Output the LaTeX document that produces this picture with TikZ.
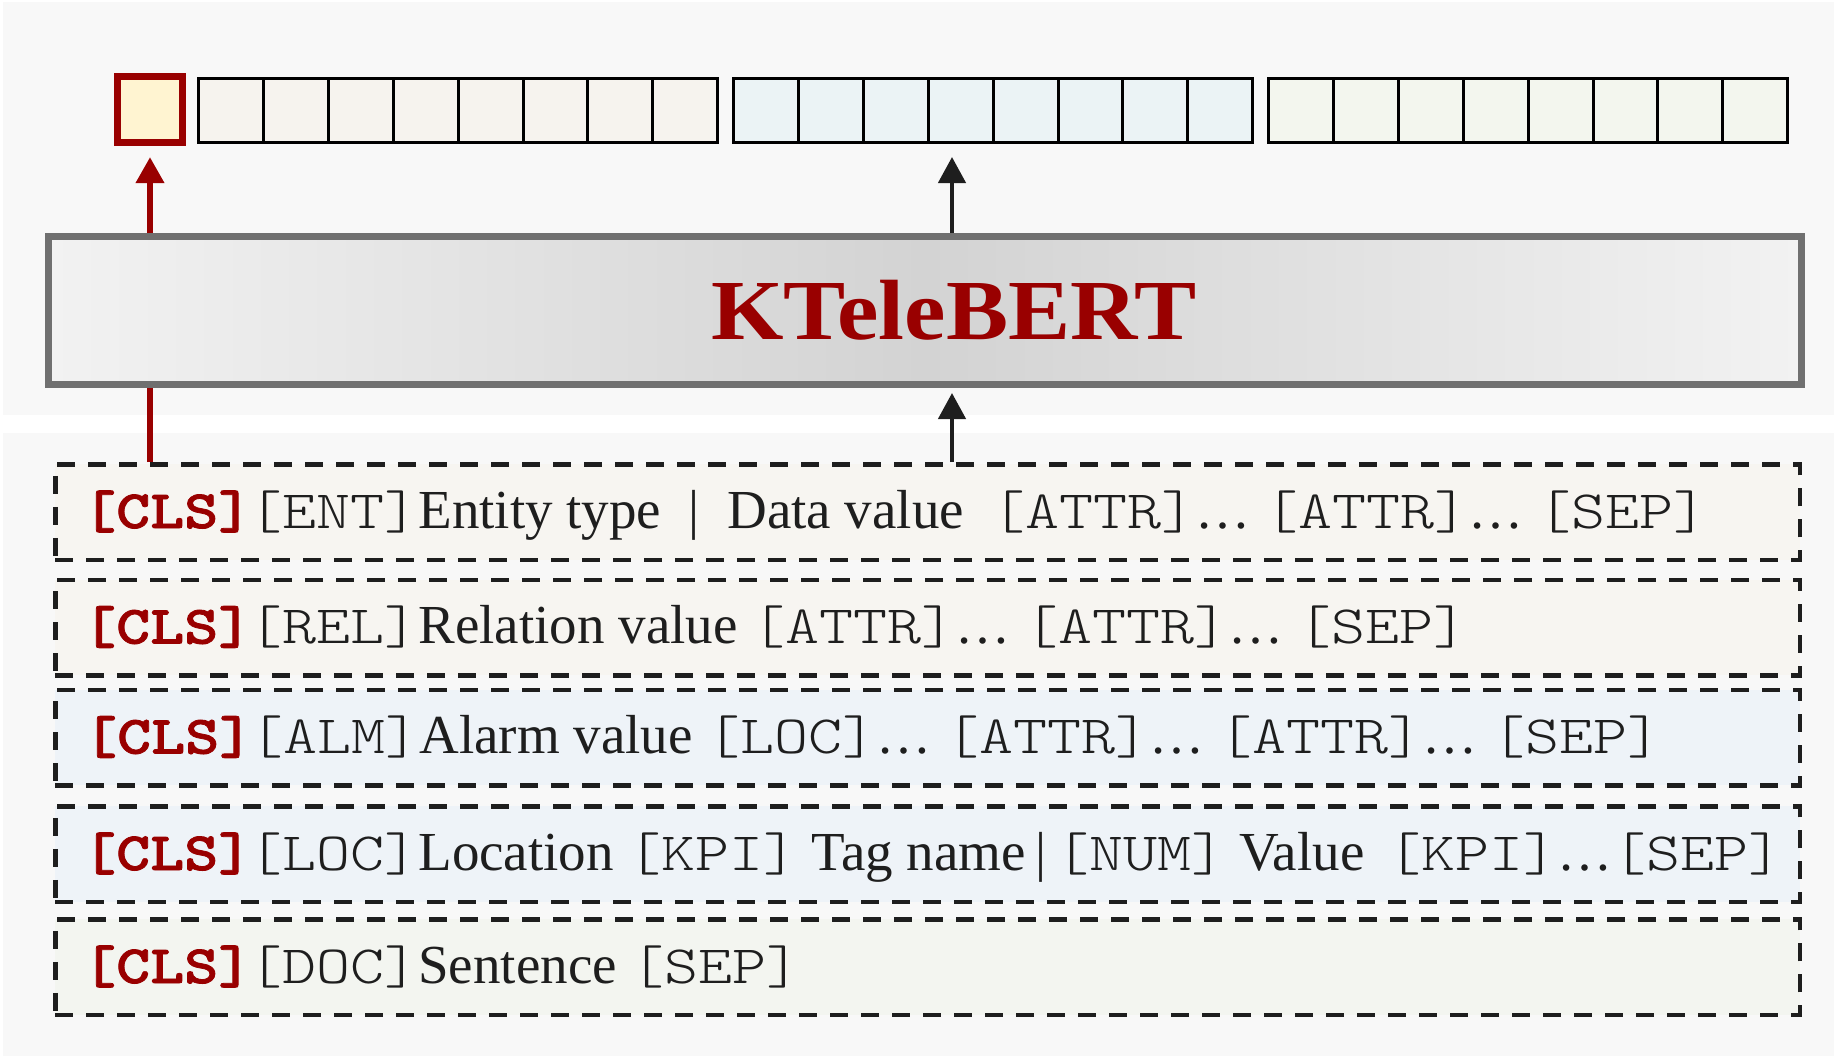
\documentclass[tikz,border=0pt]{standalone}
\usepackage{fontspec}
\setmainfont{Liberation Serif}
\newfontfamily\tokfont{lmmonolt10-regular.otf}[FakeStretch=1.2]
\newfontfamily\clsfont{lmmonolt10-bold.otf}[FakeStretch=1.2, FakeBold=1.5]
\newfontfamily\titlefont{Liberation Serif}[FakeStretch=1.09]
\usetikzlibrary{positioning,arrows.meta}

\definecolor{panelgray}{HTML}{F8F8F8}
\definecolor{ktred}{HTML}{990000}
\definecolor{clsfill}{HTML}{FFF4D1}
\definecolor{entfill}{HTML}{F6F3EE}
\definecolor{almfill}{HTML}{EBF3F5}
\definecolor{docfill}{HTML}{F3F6EE}
\definecolor{rowwarm}{HTML}{F7F5F1}
\definecolor{rowblue}{HTML}{EEF3F8}
\definecolor{rowgreen}{HTML}{F3F5F0}
\definecolor{bertedge}{HTML}{F2F2F2}
\definecolor{bertmid}{HTML}{D3D3D3}
\definecolor{bertline}{HTML}{707070}
\definecolor{inkblack}{HTML}{1E1E1E}

\newcommand{\clstok}{\textcolor{ktred}{\fontsize{54}{60}\clsfont [CLS]}\kern-4pt}
\newcommand{\tok}[1]{{\fontsize{54}{60}\tokfont [#1]}}

\tikzset{
    cell/.style={draw=black, line width=3pt, inner sep=0pt,
        minimum width=64.9pt, minimum height=64pt},
    clscell/.style={draw=ktred, line width=7pt, fill=clsfill, inner sep=0pt,
        minimum width=65pt, minimum height=66pt},
    bertbox/.style={draw=bertline, line width=7pt, inner sep=0pt,
        left color=bertedge, right color=bertedge, middle color=bertmid,
        minimum width=1753pt, minimum height=148pt},
    seqrow/.style={draw=inkblack, line width=4.5pt, dash pattern=on 18pt off 13pt,
        inner sep=0pt, minimum width=1744.5pt, minimum height=95.5pt},
    rowtext/.style={anchor=base west, inner sep=0pt, text=inkblack,
        font=\fontsize{55}{60}\selectfont},
    redup/.style={draw=ktred, line width=6.5pt, -{Triangle[length=26pt,width=27pt]}},
    redline/.style={draw=ktred, line width=6.5pt},
    blackup/.style={draw=inkblack, line width=4.5pt, -{Triangle[length=26pt,width=27pt]}}
}

\begin{document}
\begin{tikzpicture}[x=1pt, y=-1pt]
    \useasboundingbox (0,0) rectangle (1837,1058);

    % Background panels
    \fill[panelgray] (3,2) rectangle (1834,415);
    \fill[panelgray] (3,433) rectangle (1834,1056);

    % Output vectors
    \node[clscell] (cls) at (150,109.5) {};
    \foreach \g/\gx/\gfill in {1/198.5/entfill, 2/733.5/almfill, 3/1268.5/docfill} {
        \foreach \i in {1,...,8} {
            \node[cell, fill=\gfill] (c\g-\i) at ({\gx+(\i-0.5)*64.9}, 110.5) {};
        }
    }

    % Encoder
    \node[bertbox] (bert) at (925,310.5) {};
    \node[font=\fontsize{85.5}{90}\titlefont\bfseries, text=ktred, inner sep=0pt]
        (bertname) at (954,310.5) {KTeleBERT};

    % Input sequences
    \node[seqrow, fill=rowwarm] (r1) at (927.5,512) {};
    \node[seqrow, fill=rowwarm] (r2) at (927.5,627.5) {};
    \node[seqrow, fill=rowblue] (r3) at (927.5,737.5) {};
    \node[seqrow, fill=rowblue] (r4) at (927.5,854) {};
    \node[seqrow, fill=rowgreen] (r5) at (927.5,967) {};

    \node[rowtext] (t1) at (82,528) {\clstok\tok{ENT}Entity type\enspace|\enspace Data value\enspace\tok{ATTR}\ldots\ \tok{ATTR}\ldots\ \tok{SEP}};
    \node[rowtext] (t2) at (82,643.5) {\clstok\tok{REL}Relation value\ \tok{ATTR}\ldots\ \tok{ATTR}\ldots\ \tok{SEP}};
    \node[rowtext] (t3) at (83,753.5) {\clstok\tok{ALM}Alarm value\ \tok{LOC}\ldots\ \tok{ATTR}\ldots\ \tok{ATTR}\ldots\ \tok{SEP}};
    \node[rowtext] (t4) at (82,870) {\clstok\tok{LOC}Location\ \tok{KPI}\ Tag name\,|\,\tok{NUM}\ Value\ \,\tok{KPI}\ldots\tok{SEP}};
    \node[rowtext] (t5) at (82,983) {\clstok\tok{DOC}Sentence\ \tok{SEP}};

    % Connectors
    \coordinate (mid) at (952,157);
    \draw[redup] (bert.north -| cls.south) -- ([yshift=-11pt]cls.south);
    \draw[blackup] (bert.north -| mid) -- (mid);
    \draw[redline] (r1.north -| cls.south) -- (bert.south -| cls.south);
    \draw[blackup, shorten >=5pt] (r1.north -| mid) -- (bert.south -| mid);
\end{tikzpicture}
\end{document}
